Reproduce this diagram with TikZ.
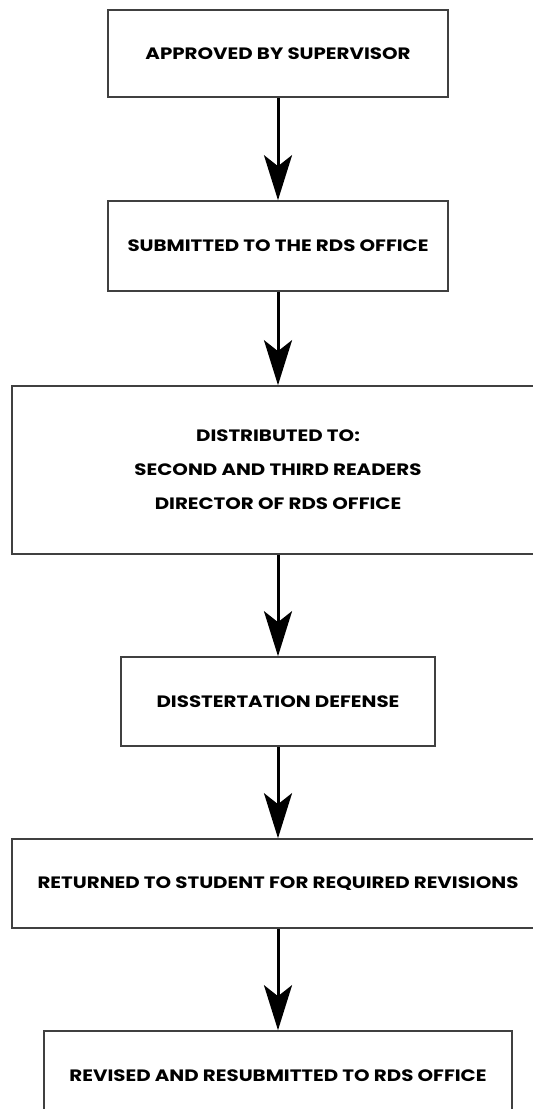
\documentclass[tikz,border=0pt]{standalone}
\usepackage{fontspec}
\setmainfont{Poppins}[FakeStretch=1.2]
\usepackage{tikz}
\usetikzlibrary{arrows.meta}

\tikzset{
  stepbox/.style={draw=black!75, line width=1.6pt, fill=white, align=center,
    font=\bfseries\fontsize{16.5}{34}\selectfont, inner sep=0pt},
  flow/.style={line width=3pt, -{Stealth[length=45pt, width=28pt, inset=11pt]}}
}

\begin{document}
\begin{tikzpicture}[x=1pt, y=-1pt]
		\useasboundingbox (0,0) rectangle (533,1109);
		\clip (0,0) rectangle (533,1109);
		\node[stepbox, minimum width=340pt, minimum height=87pt] (approved) at (278,53.5) {APPROVED BY SUPERVISOR};
		\node[stepbox, minimum width=340pt, minimum height=90pt] (submitted) at (278,246) {SUBMITTED TO THE RDS OFFICE};
		\node[stepbox, minimum width=532pt, minimum height=168pt] (distributed) at (278,470) {DISTRIBUTED TO:\\SECOND AND THIRD READERS\\DIRECTOR OF RDS OFFICE};
		\node[stepbox, minimum width=314pt, minimum height=89pt] (defense) at (278,701.5) {DISSTERTATION DEFENSE};
		\node[stepbox, minimum width=532pt, minimum height=89pt] (returned) at (278,883.5) {RETURNED TO STUDENT FOR REQUIRED REVISIONS};
		\node[stepbox, minimum width=468pt, minimum height=90pt] (revised) at (278,1076) {REVISED AND RESUBMITTED TO RDS OFFICE};
		\draw[flow] (approved) -- (submitted); % arrows between steps
		\draw[flow] (submitted) -- (distributed);
		\draw[flow] (distributed) -- (defense);
		\draw[flow] (defense) -- (returned);
		\draw[flow] (returned) -- (revised);
		\end{tikzpicture}
\end{document}
